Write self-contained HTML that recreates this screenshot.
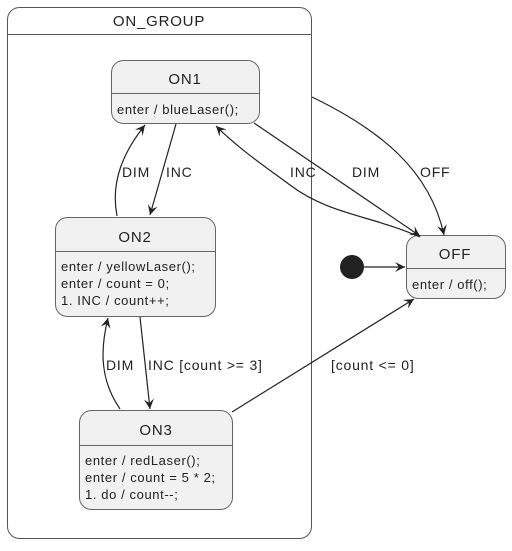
<!DOCTYPE html>
<html><head><style>
body{margin:0;background:#fff;}
svg text{font-family:"Liberation Sans",sans-serif;fill:#222;}
</style></head><body>
<svg width="512" height="546" viewBox="0 0 512 546" xmlns="http://www.w3.org/2000/svg">
<defs><marker id="a" markerWidth="12" markerHeight="12" refX="10" refY="6" orient="auto" markerUnits="userSpaceOnUse"><path d="M0,1 L10,6 L0,11 L4,6 Z" fill="#222"/></marker></defs>
<g stroke="#555" stroke-width="1" fill="#fff">
<rect x="7.5" y="7.5" width="304" height="531" rx="12"/>
<line x1="7.5" y1="34.5" x2="311.5" y2="34.5"/>
</g>
<g letter-spacing="0.8">
<text x="159" y="26" font-size="15" text-anchor="middle">ON_GROUP</text>
<text x="185" y="84" font-size="15" text-anchor="middle">ON1</text>
<text x="135" y="242" font-size="15" text-anchor="middle">ON2</text>
<text x="156" y="435" font-size="15" text-anchor="middle">ON3</text>
<text x="455" y="259" font-size="15" text-anchor="middle">OFF</text>
</g>
<g stroke="#666" fill="#f1f1f1">
<rect x="111.5" y="60.5" width="148" height="63" rx="12"/>
<line x1="111.5" y1="93.5" x2="259.5" y2="93.5"/>
<rect x="55.5" y="217.5" width="160" height="99" rx="12"/>
<line x1="55.5" y1="251.5" x2="215.5" y2="251.5"/>
<rect x="79.5" y="410.5" width="153" height="99" rx="12"/>
<line x1="79.5" y1="445.5" x2="232.5" y2="445.5"/>
<rect x="406.5" y="235.5" width="99" height="63" rx="12"/>
<line x1="406.5" y1="268.5" x2="505.5" y2="268.5"/>
</g>
<text x="185" y="84" font-size="15" text-anchor="middle" letter-spacing="0.8">ON1</text>
<text x="135" y="242" font-size="15" text-anchor="middle" letter-spacing="0.8">ON2</text>
<text x="156" y="435" font-size="15" text-anchor="middle" letter-spacing="0.8">ON3</text>
<text x="455" y="259" font-size="15" text-anchor="middle" letter-spacing="0.8">OFF</text>
<g font-size="13" letter-spacing="0.6">
<text x="117" y="114">enter / blueLaser();</text>
<text x="61" y="271">enter / yellowLaser();</text>
<text x="61" y="288">enter / count = 0;</text>
<text x="61" y="305">1. INC / count++;</text>
<text x="85" y="465">enter / redLaser();</text>
<text x="85" y="482">enter / count = 5 * 2;</text>
<text x="85" y="499">1. do / count--;</text>
<text x="412" y="289">enter / off();</text>
</g>
<circle cx="352" cy="267" r="12" fill="#222"/>
<g stroke="#222" stroke-width="1.2" fill="none" marker-end="url(#a)">
<path d="M176,124 L150,215"/>
<path d="M117,216 C110,180 125,150 145,125"/>
<path d="M254,123 L420,236"/>
<path d="M420,237 C370,215 330,215 290,185 C270,170 240,150 216,126"/>
<path d="M312,97 C380,130 430,170 444,235"/>
<path d="M364,267 L405,267"/>
<path d="M140,317 L150,409"/>
<path d="M120,409 C100,380 100,350 108,318"/>
<path d="M232,412 L414,299"/>
</g>
<g font-size="14" letter-spacing="0.8">
<text x="122" y="177">DIM</text>
<text x="166" y="177">INC</text>
<text x="290" y="177">INC</text>
<text x="352" y="177">DIM</text>
<text x="420" y="177">OFF</text>
<text x="148" y="370">INC [count &gt;= 3]</text>
<text x="106" y="370">DIM</text>
<text x="331" y="370">[count &lt;= 0]</text>
</g>
</svg>
</body></html>
